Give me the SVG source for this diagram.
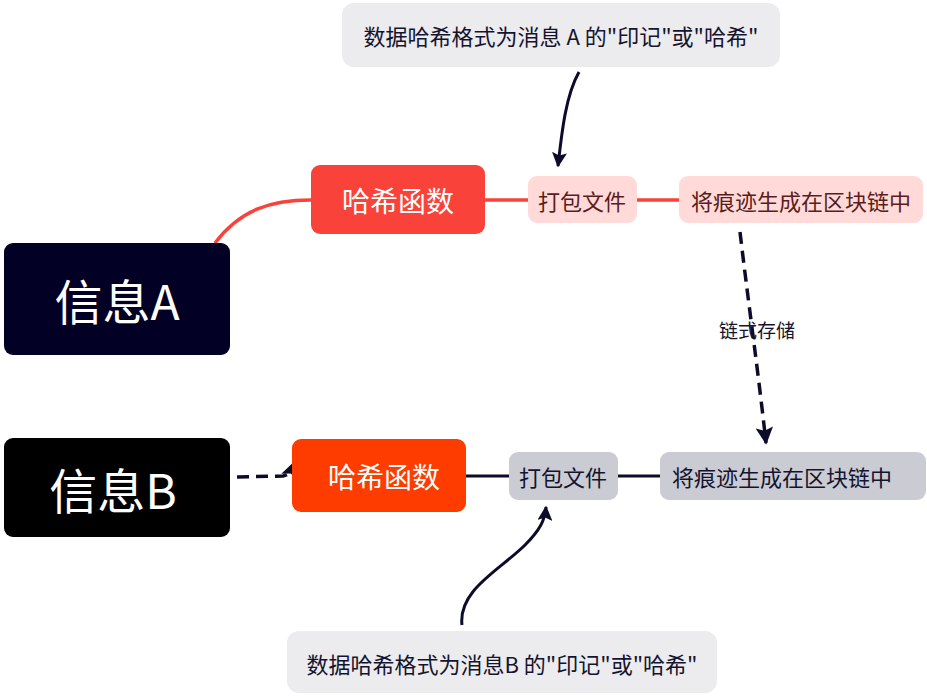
<svg xmlns="http://www.w3.org/2000/svg" width="927" height="696" viewBox="0 0 927 696">
<defs>
<style>
text{font-family:"Microsoft YaHei","Noto Sans CJK SC","Noto Sans",sans-serif;dominant-baseline:central;text-anchor:middle}
.big{font-size:48px;fill:#fff}
.hash{font-size:28px;fill:#fff}
.pink{fill:#FFDAD8}
.pinkt{font-size:22px;fill:#5a1c1c}
.gray{fill:#CBCBD3}
.grayt{font-size:22px;fill:#14142e}
.note{fill:#ECEBEE}
.notet{font-size:22px;fill:#14142e}
.lbl{font-size:19px;fill:#14142e}
.red{stroke:#F9423A;stroke-width:3.5;fill:none}
.dark{stroke:#0c0c2a;stroke-width:3;fill:none}
.dash{stroke:#0c0c2a;stroke-width:3.5;fill:none;stroke-dasharray:12 7}
</style>
<marker id="ah" viewBox="0 0 10 10" refX="9" refY="5" markerWidth="5" markerHeight="5" orient="auto" markerUnits="strokeWidth">
<path d="M0,0 L10,5 L0,10 L2,5 z" fill="#0c0c2a"/>
</marker>
</defs>
<rect width="927" height="696" fill="#fff"/>
<g id="connectors">
<path class="red" d="M215,243 C240,210 270,200 311,200"/>
<line class="red" x1="485" y1="200" x2="528" y2="200"/>
<line class="red" x1="637" y1="200" x2="680" y2="200"/>
<path class="dark" d="M579,72 C566,95 562,130 558,166" marker-end="url(#ah)"/>
<path class="dash" d="M740,232 C748,300 758,370 766,443" marker-end="url(#ah)"/>
<path class="dash" d="M237,477 L283,476 C290,475 292,470 295,462" marker-end="url(#ah)"/>
<line class="dark" x1="466" y1="476" x2="509" y2="476"/>
<line class="dark" x1="618" y1="476" x2="660" y2="476"/>
<path class="dark" d="M462,625 C458,590 500,570 525,545 C540,530 545,520 546,507" marker-end="url(#ah)"/>
<text class="lbl" x="757" y="329">链式存储</text>
</g>
<g id="noteA">
<rect class="note" x="342" y="3" width="438" height="64" rx="12"/>
<text class="notet" x="561" y="35">数据哈希格式为消息 A 的"印记"或"哈希"</text>
</g>
<g id="infoA">
<rect x="4" y="243" width="226" height="112" rx="9" fill="#020024"/>
<text class="big" x="117" y="299">信息A</text>
</g>
<g id="hashA">
<rect x="311" y="165" width="174" height="69" rx="9" fill="#F9423A"/>
<text class="hash" x="398" y="200">哈希函数</text>
</g>
<g id="packA">
<rect class="pink" x="528" y="176" width="109" height="47" rx="9"/>
<text class="pinkt" x="582" y="200">打包文件</text>
</g>
<g id="chainA">
<rect class="pink" x="679" y="176" width="244" height="47" rx="9"/>
<text class="pinkt" x="801" y="200">将痕迹生成在区块链中</text>
</g>
<g id="infoB">
<rect x="4" y="438" width="226" height="99" rx="9" fill="#000000"/>
<text class="big" x="113" y="488">信息B</text>
</g>
<g id="hashB">
<rect x="292" y="439" width="174" height="73" rx="9" fill="#FF3C00"/>
<text class="hash" x="384" y="476">哈希函数</text>
</g>
<g id="packB">
<rect class="gray" x="509" y="452" width="109" height="48" rx="9"/>
<text class="grayt" x="563" y="476">打包文件</text>
</g>
<g id="chainB">
<rect class="gray" x="660" y="452" width="266" height="48" rx="9"/>
<text class="grayt" x="782" y="476">将痕迹生成在区块链中</text>
</g>
<g id="noteB">
<rect class="note" x="287" y="631" width="430" height="62" rx="12"/>
<text class="notet" x="502" y="663">数据哈希格式为消息B 的"印记"或"哈希"</text>
</g>
</svg>
